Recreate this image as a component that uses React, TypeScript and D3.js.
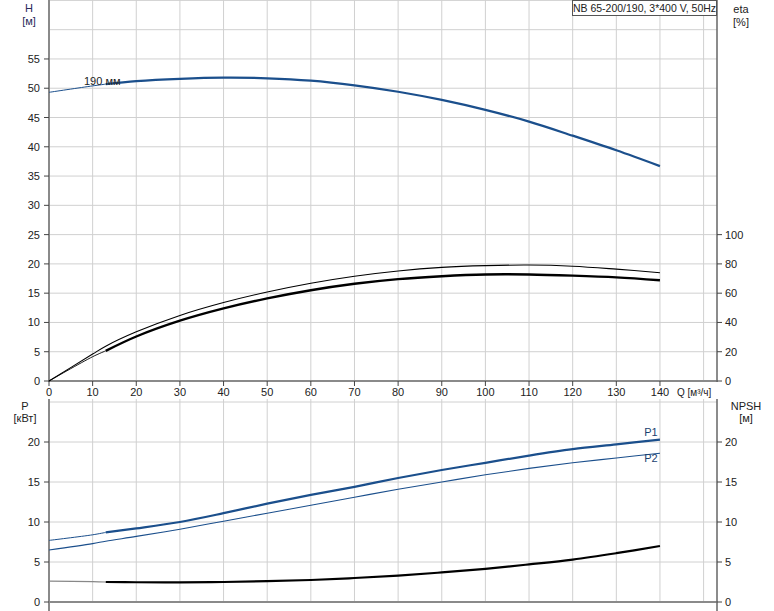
import React from "react";
import * as d3 from "d3";

const qTicks = [0, 10, 20, 30, 40, 50, 60, 70, 80, 90, 100, 110, 120, 130, 140];
const hTicks = [0, 5, 10, 15, 20, 25, 30, 35, 40, 45, 50, 55];
const etaTicks = [0, 20, 40, 60, 80, 100];
const pTicks = [0, 5, 10, 15, 20];

const qData = [0, 10, 13, 20, 30, 40, 50, 60, 70, 80, 90, 100, 110, 120, 130, 140];
const hData = [49.3, 50.4, 50.7, 51.2, 51.6, 51.8, 51.7, 51.3, 50.5, 49.4, 48.0, 46.3, 44.3, 41.9, 39.4, 36.7];
const eta1Data = [0, 18.4, 23.8, 33.6, 44.8, 53.6, 60.8, 66.8, 71.6, 75.2, 77.6, 78.8, 79.2, 78.4, 76.4, 74.0];
const eta2Data = [0, 16.6, 20.6, 30.4, 41.2, 49.6, 56.4, 62.0, 66.4, 69.6, 71.6, 72.8, 72.8, 72.0, 70.8, 68.8];
const p1Data = [7.7, 8.4, 8.7, 9.2, 10.0, 11.1, 12.3, 13.4, 14.4, 15.5, 16.5, 17.4, 18.3, 19.1, 19.7, 20.3];
const p2Data = [6.5, 7.3, 7.6, 8.2, 9.1, 10.1, 11.1, 12.1, 13.1, 14.1, 15.0, 15.9, 16.7, 17.4, 18.0, 18.6];
const npshData = [2.6, 2.55, 2.5, 2.47, 2.45, 2.5, 2.6, 2.75, 3.0, 3.3, 3.7, 4.15, 4.7, 5.3, 6.1, 7.0];

const qMin = 13;
const title = "NB 65-200/190, 3*400 V, 50Hz";
const curveLabel = "190 мм";

export default function App() {
  const font = "Liberation Sans, Arial, sans-serif";
  const xL = 49, xR = 717;
  const x = d3.scaleLinear().domain([0, 150]).range([xL, 703.6]);
  const yH = d3.scaleLinear().domain([0, 65]).range([381, 0.4]);
  const yEta = d3.scaleLinear().domain([0, 100]).range([381, 381 - 100 * 5.855 / 4]);
  const yP = d3.scaleLinear().domain([0, 25]).range([602, 402]);

  const mk = (ys: number[], sy: any, part: "thin" | "thick" | "all") => {
    const pts = qData.map((q, i) => [q, ys[i]] as [number, number]).filter(([q]) =>
      part === "all" ? true : part === "thin" ? q <= qMin : q >= qMin);
    return d3.line<[number, number]>().x(d => x(d[0])).y(d => sy(d[1])).curve(d3.curveCatmullRom.alpha(0.5))(pts) || "";
  };

  const gridQ = d3.range(0, 151, 10);
  const blue = "#1b4f8c";
  const grid = "#d0d0d0";
  const axis = "#8a8a8a";

  return (
    <svg width={774} height={611} style={{ display: "block", position: "absolute", left: 0, top: 0 }} fontFamily={font} fontSize={11}>
      <rect width={774} height={611} fill="#fff" />
      {gridQ.map(q => <line key={"tv" + q} x1={x(q)} x2={x(q)} y1={0} y2={381} stroke={grid} />)}
      {d3.range(5, 66, 5).map(h => <line key={"th" + h} x1={xL} x2={xR} y1={yH(h)} y2={yH(h)} stroke={grid} />)}
      {gridQ.map(q => <line key={"bv" + q} x1={x(q)} x2={x(q)} y1={399} y2={602} stroke={grid} />)}
      {d3.range(5, 26, 5).map(p => <line key={"bh" + p} x1={xL} x2={xR} y1={yP(p)} y2={yP(p)} stroke={grid} />)}

      <line x1={xL} x2={xL} y1={0} y2={382} stroke={axis} strokeWidth={2} />
      <line x1={xL - 1} x2={xR} y1={381} y2={381} stroke={axis} strokeWidth={2} />
      <line x1={xR} x2={xR} y1={0} y2={382} stroke="#666" strokeWidth={1.5} />
      <line x1={xL} x2={xL} y1={399} y2={611} stroke={axis} strokeWidth={2} />
      <line x1={xL - 1} x2={xR} y1={602} y2={602} stroke={axis} strokeWidth={2} />
      <line x1={xR} x2={xR} y1={399} y2={611} stroke="#666" strokeWidth={1.5} />

      {hTicks.map(h => (
        <g key={"hl" + h}>
          <line x1={xL - 5} x2={xL} y1={yH(h)} y2={yH(h)} stroke="#444" />
          <text x={40} y={yH(h) + 4} textAnchor="end" fill="#222">{h}</text>
        </g>
      ))}
      {etaTicks.map(e => (
        <g key={"er" + e}>
          <line x1={xR} x2={xR + 5} y1={yEta(e)} y2={yEta(e)} stroke="#444" />
          <text x={725} y={yEta(e) + 4} fill="#222">{e}</text>
        </g>
      ))}
      {qTicks.map(q => (
        <g key={"q" + q}>
          <line x1={x(q)} x2={x(q)} y1={381} y2={386} stroke="#444" />
          <text x={x(q)} y={396} textAnchor="middle" fill="#222">{q}</text>
        </g>
      ))}
      <text x={677} y={396} fill="#222" fontSize={10}>Q [м³/ч]</text>
      {pTicks.map(p => (
        <g key={"p" + p}>
          <line x1={xL - 5} x2={xL} y1={yP(p)} y2={yP(p)} stroke="#444" />
          <text x={40} y={yP(p) + 4} textAnchor="end" fill="#222">{p}</text>
          <line x1={xR} x2={xR + 5} y1={yP(p)} y2={yP(p)} stroke="#444" />
          <text x={725} y={yP(p) + 4} fill="#222">{p}</text>
        </g>
      ))}

      <text x={29} y={12} textAnchor="middle" fill="#2a2a5a">H</text>
      <text x={29} y={25} textAnchor="middle" fill="#2a2a5a">[м]</text>
      <text x={741} y={13} textAnchor="middle" fill="#222">eta</text>
      <text x={741} y={26} textAnchor="middle" fill="#222">[%]</text>
      <text x={25} y={410} textAnchor="middle" fill="#222">P</text>
      <text x={25} y={422} textAnchor="middle" fill="#222">[кВт]</text>
      <text x={746} y={410} textAnchor="middle" fill="#222">NPSH</text>
      <text x={746} y={422} textAnchor="middle" fill="#222">[м]</text>

      <rect x={572.5} y={0.5} width={144} height={15} fill="#fff" stroke="#555" />
      <text x={644.5} y={12} textAnchor="middle" fill="#222" fontSize={10.5}>{title}</text>

      <path d={mk(hData, yH, "thin")} fill="none" stroke={blue} strokeWidth={1} />
      <path d={mk(hData, yH, "thick")} fill="none" stroke={blue} strokeWidth={2.2} />
      <text x={84} y={85} fill="#222">{curveLabel}</text>

      <path d={mk(eta1Data, yEta, "all")} fill="none" stroke="#000" strokeWidth={1.1} />
      <path d={mk(eta2Data, yEta, "thin")} fill="none" stroke="#000" strokeWidth={0.9} />
      <path d={mk(eta2Data, yEta, "thick")} fill="none" stroke="#000" strokeWidth={2.4} />

      <path d={mk(p1Data, yP, "thin")} fill="none" stroke={blue} strokeWidth={1} />
      <path d={mk(p1Data, yP, "thick")} fill="none" stroke={blue} strokeWidth={2.2} />
      <path d={mk(p2Data, yP, "all")} fill="none" stroke={blue} strokeWidth={1.1} />
      <text x={651} y={436} textAnchor="middle" fill="#1b3f70">P1</text>
      <text x={651} y={462} textAnchor="middle" fill="#1b3f70">P2</text>

      <path d={mk(npshData, yP, "thin")} fill="none" stroke="#888" strokeWidth={1.2} />
      <path d={mk(npshData, yP, "thick")} fill="none" stroke="#000" strokeWidth={2.2} />
    </svg>
  );
}
